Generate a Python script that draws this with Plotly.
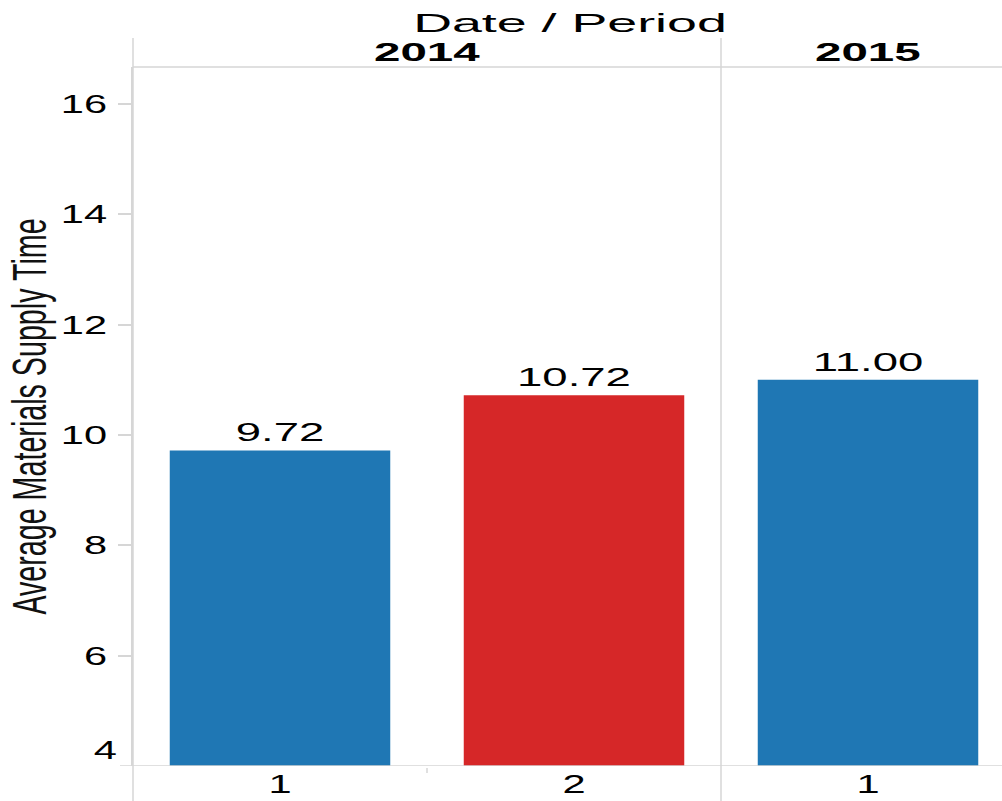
import json
import plotly.graph_objects as go

# Average materials supply time by year / period
years = ["2014", "2014", "2015"]
periods = ["1", "2", "1"]
values = [9.72, 10.72, 11.00]
bar_colors = ["#1f77b4", "#d62728", "#1f77b4"]
y_ticks = [6, 8, 10, 12, 14, 16]

W, H = 1002, 801
M_L, M_R, M_T, M_B = 133, 0, 67, 35
PLOT_H = H - M_T - M_B
GRAY = "#d6d6d6"
FONT = "Liberation Sans, Arial, sans-serif"


def py(px):
    """Pixel row -> paper y coordinate."""
    return (H - M_B - px) / PLOT_H


x_pos = list(range(len(values)))
year_order = list(dict.fromkeys(years))
year_centers = {y: sum(i for i, yy in enumerate(years) if yy == y) / years.count(y) for y in year_order}
year_bounds = [i + 0.5 for i in range(len(years) - 1) if years[i] != years[i + 1]]
period_bounds = [i + 0.5 for i in range(len(years) - 1) if years[i] == years[i + 1]]

col_px = 294.0
x_max = len(values) - 0.5 - (M_L + col_px * len(values) - W) / col_px

fig = go.Figure(
    go.Bar(
        x=x_pos,
        y=values,
        width=0.75,
        marker=dict(color=bar_colors, line=dict(width=0)),
        text=[f"{v:.2f}" for v in values],
        textposition="outside",
        textfont=dict(size=26, color="black", family=FONT),
        cliponaxis=False,
        hoverinfo="skip",
    )
)

shapes = [
    # bottom axis line, running under the tick marks
    dict(type="line", xref="paper", yref="y", x0=-13 / (W - M_L), x1=1, y0=4, y1=4,
         line=dict(color=GRAY, width=1.5)),
    # header separator
    dict(type="line", xref="paper", yref="paper", x0=0, x1=1, y0=1, y1=1,
         line=dict(color=GRAY, width=1.5)),
    # left frame line
    dict(type="line", xref="paper", yref="paper", x0=0, x1=0, y0=py(H), y1=py(38),
         line=dict(color=GRAY, width=1.5)),
]
for b in year_bounds:
    shapes.append(dict(type="line", xref="x", yref="paper", x0=b, x1=b, y0=py(H), y1=py(38),
                       line=dict(color=GRAY, width=1.5)))
for b in period_bounds:
    shapes.append(dict(type="line", xref="x", yref="paper", x0=b, x1=b, y0=py(768), y1=py(773),
                       line=dict(color=GRAY, width=1.5)))

annotations = [
    dict(text="Date / Period", xref="x", yref="paper", x=(x_pos[0] + x_pos[-1]) / 2 - 0.015, y=py(23),
         showarrow=False, font=dict(size=25, color="black", family=FONT), yanchor="middle"),
]
for y in year_order:
    annotations.append(dict(text=f"<b>{y}</b>", xref="x", yref="paper", x=year_centers[y], y=py(52),
                            showarrow=False, font=dict(size=25, color="black", family=FONT),
                            yanchor="middle"))
annotations.append(dict(text="4", xref="paper", yref="y", x=0, y=4, xanchor="right", yanchor="bottom",
                        xshift=-19, yshift=-1, showarrow=False,
                        font=dict(size=26, color="black", family=FONT)))
ann_stretch = [2.15, 1.9, 1.9, 1.6][: len(annotations)]

fig.update_layout(
    width=W,
    height=H,
    margin=dict(l=M_L, r=M_R, t=M_T, b=M_B),
    paper_bgcolor="white",
    plot_bgcolor="white",
    showlegend=False,
    bargap=0.25,
    shapes=shapes,
    annotations=annotations,
    font=dict(family=FONT, color="black"),
    xaxis=dict(
        range=[-0.5, x_max],
        tickmode="array",
        tickvals=x_pos,
        ticktext=periods,
        tickfont=dict(size=26, color="black"),
        showline=False,
        showgrid=False,
        zeroline=False,
        ticks="",
        fixedrange=True,
    ),
    yaxis=dict(
        range=[4, 16.67],
        tickmode="array",
        tickvals=y_ticks,
        ticks="outside",
        ticklen=13,
        tickwidth=1.5,
        tickcolor=GRAY,
        ticklabelstandoff=6,
        tickfont=dict(size=26, color="black"),
        showline=True,
        linecolor=GRAY,
        linewidth=1.5,
        showgrid=False,
        zeroline=False,
        title=dict(text="Average Materials Supply Time", font=dict(size=49, color="#111"), standoff=16),
        fixedrange=True,
    ),
)

post = """
var gd = document.getElementById('{plot_id}');
function widen(t, f) {
  var w = t.getComputedTextLength();
  if (w > 0) { t.setAttribute('textLength', w * f); t.setAttribute('lengthAdjust', 'spacingAndGlyphs'); }
}
gd.querySelectorAll('.ytick text').forEach(function (t) { widen(t, 1.6); });
gd.querySelectorAll('.xtick text').forEach(function (t) { widen(t, 1.6); });
gd.querySelectorAll('.bartext').forEach(function (t) { widen(t, 1.75); });
gd.querySelectorAll('.ytitle').forEach(function (t) { widen(t, 0.585); });
var f = ANN;
gd.querySelectorAll('.annotation-text').forEach(function (t, i) { widen(t, f[i] || 1); });
""".replace("ANN", json.dumps(ann_stretch))

fig.write_html("out.html", post_script=post, config={"displayModeBar": False})
